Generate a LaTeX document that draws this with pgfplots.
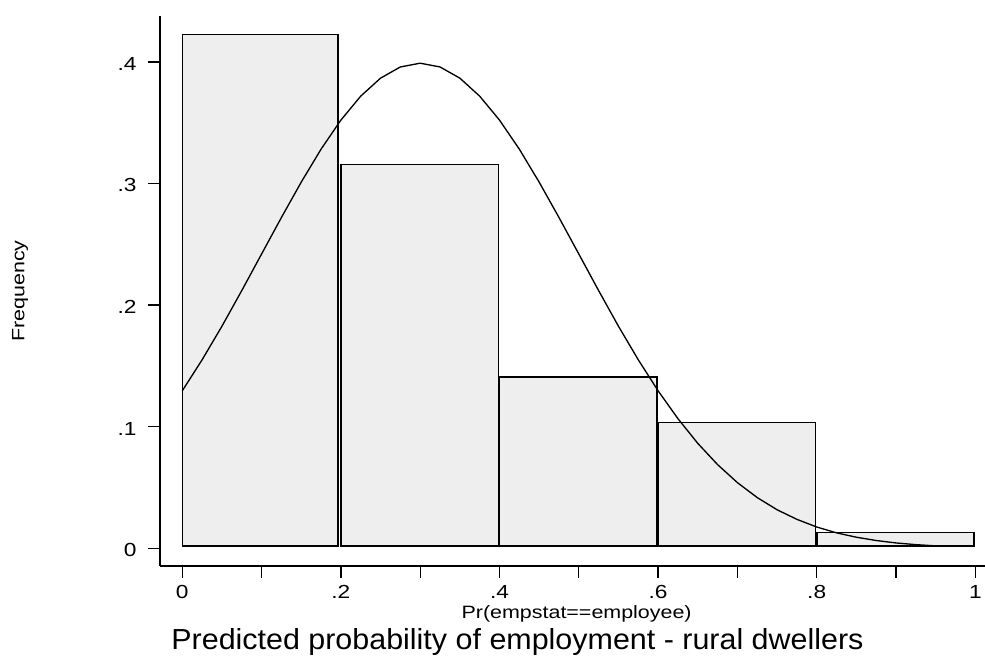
\documentclass[border=0pt]{standalone}
\usepackage{fontspec}
\setmainfont{Liberation Sans}
\newfontfamily\smallf{Liberation Sans}[FakeStretch=1.2]
\newfontfamily\titlef{Liberation Sans}[FakeStretch=1.05]
\usepackage{pgfplots}
\pgfplotsset{compat=1.18}
\definecolor{barfill}{RGB}{238,238,238}
\begin{document}
\begin{tikzpicture}
\path[use as bounding box] (-120pt,-68.25pt) rectangle (618.75pt,424.5pt);
\begin{axis}[
  at={(0,0)}, anchor=south west,
  scale only axis, width=618.75pt, height=412.5pt,
  xmin=-0.0281, xmax=1.0122, ymin=-0.01456, ymax=0.4377,
  axis x line=bottom, axis y line=left,
  axis line style={-, line width=1pt, black},
  clip=false,
  xtick={0,0.2,0.4,0.6,0.8,1},
  xticklabels={0,.2,.4,.6,.8,1},
  minor xtick={0.1,0.3,0.5,0.7,0.9},
  ytick={0,0.1,0.2,0.3,0.4},
  yticklabels={0,.1,.2,.3,.4},
  tick align=outside,
  major tick length=9pt, minor tick length=9pt,
  every tick/.style={line width=1pt, black},
  /pgf/number format/assume math mode=true,
  ticklabel style={font=\smallf\fontsize{14.2}{16}\selectfont},
  yticklabel style={xshift=-5pt, yshift=-1.5pt},
  xticklabel style={yshift=-2pt},
  label style={font=\smallf\fontsize{13.4}{16}\selectfont},
  xlabel={Pr(empstat==employee)},
  xlabel style={at={(axis description cs:0.505,0)}, anchor=base, yshift=-39pt},
  ylabel={Frequency},
  ylabel style={at={(axis description cs:-0.1697,0.5)}, anchor=center},
]
\addplot[draw=black, line width=1pt, fill=barfill] coordinates {(0,0.0019) (0,0.4227) (0.1965,0.4227) (0.1965,0.0019)} --cycle;
\addplot[draw=black, line width=1pt, fill=barfill] coordinates {(0.2003,0.0019) (0.2003,0.3158) (0.3985,0.3158) (0.3985,0.0019)} --cycle;
\addplot[draw=black, line width=1pt, fill=barfill] coordinates {(0.4003,0.0019) (0.4003,0.1409) (0.5985,0.1409) (0.5985,0.0019)} --cycle;
\addplot[draw=black, line width=1pt, fill=barfill] coordinates {(0.6003,0.0019) (0.6003,0.1036) (0.7985,0.1036) (0.7985,0.0019)} --cycle;
\addplot[draw=black, line width=1pt, fill=barfill] coordinates {(0.8003,0.0019) (0.8003,0.0128) (0.9985,0.0128) (0.9985,0.0019)} --cycle;
\addplot[black, line width=1pt, sharp plot] coordinates {
(0,0.1295) (0.025,0.1550) (0.05,0.1826) (0.075,0.2119) (0.1,0.2420)
(0.125,0.2720) (0.15,0.3011) (0.175,0.3282) (0.2,0.3521) (0.225,0.3718)
(0.25,0.3866) (0.275,0.3958) (0.3,0.3989) (0.325,0.3958) (0.35,0.3866)
(0.375,0.3718) (0.4,0.3521) (0.425,0.3282) (0.45,0.3011) (0.475,0.2720)
(0.5,0.2420) (0.525,0.2119) (0.55,0.1826) (0.575,0.1550) (0.6,0.1295)
(0.625,0.1066) (0.65,0.0863) (0.675,0.0688) (0.7,0.0540) (0.725,0.0417)
(0.75,0.0317) (0.775,0.0238) (0.8,0.0175) (0.825,0.0127) (0.85,0.0091)
(0.875,0.0064) (0.9,0.0044) (0.925,0.0030) (0.95,0.0020) (0.975,0.0019)
};
\end{axis}
\node[anchor=base, font=\titlef\fontsize{21.75}{26}\selectfont] at (268.1pt,-62.25pt) {Predicted probability of employment - rural dwellers};
\end{tikzpicture}
\end{document}
